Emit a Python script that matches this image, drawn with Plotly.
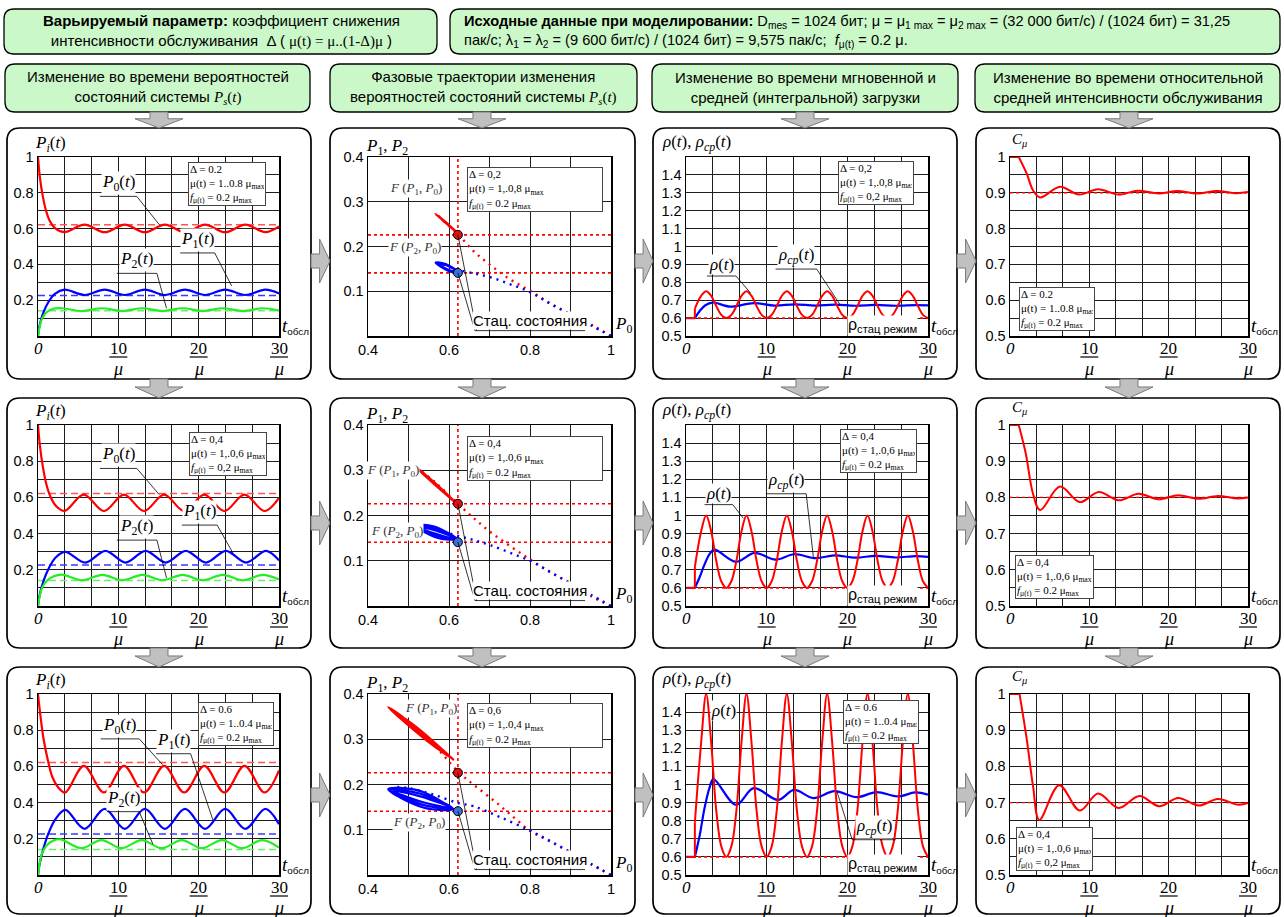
import plotly.graph_objects as go

W, H = 1284, 917

# ================= DATA =================
# Column 1: P_i(t).  A: delta=0.2, B: delta=0.4, C: delta=0.6
T_P0_A = [0, 0.25, 0.6, 1.0, 1.5, 2.2, 3.3, 5.8, 8.3, 10.8, 13.3, 15.8, 18.3, 20.8, 23.3, 25.8, 28.3, 30]
P0_A = [1.0, 0.88, 0.78, 0.70, 0.64, 0.60, 0.58, 0.622, 0.58, 0.622, 0.58, 0.622, 0.58, 0.622, 0.58, 0.622, 0.58, 0.612]
T_P1_A = [0, 0.2, 0.7, 1.3, 2.1, 3.3, 5.8, 8.3, 10.8, 13.3, 15.8, 18.3, 20.8, 23.3, 25.8, 28.3, 30]
P1_A = [0, 0.06, 0.134, 0.19, 0.236, 0.259, 0.229, 0.259, 0.229, 0.259, 0.229, 0.259, 0.229, 0.259, 0.229, 0.259, 0.238]
T_P2_A = [0, 0.5, 1.1, 1.9, 3.0, 5.5, 8.0, 10.5, 13.0, 15.5, 18.0, 20.5, 23.0, 25.5, 28.0, 30]
P2_A = [0, 0.097, 0.134, 0.152, 0.155, 0.139, 0.155, 0.139, 0.155, 0.139, 0.155, 0.139, 0.155, 0.139, 0.155, 0.142]

T_P0_B = [0, 0.25, 0.6, 1.0, 1.5, 2.2, 3.3, 5.7, 8.2, 10.7, 13.2, 15.7, 18.2, 20.7, 23.2, 25.7, 28.2, 30]
P0_B = [1.0, 0.88, 0.77, 0.68, 0.61, 0.555, 0.525, 0.615, 0.525, 0.615, 0.525, 0.615, 0.525, 0.615, 0.525, 0.615, 0.525, 0.598]
T_P1_B = [0, 0.2, 0.7, 1.3, 2.2, 3.4, 5.9, 8.4, 10.9, 13.4, 15.9, 18.4, 20.9, 23.4, 25.9, 28.4, 30]
P1_B = [0, 0.06, 0.14, 0.205, 0.268, 0.299, 0.24, 0.305, 0.24, 0.305, 0.24, 0.305, 0.24, 0.305, 0.24, 0.305, 0.252]
T_P2_B = [0, 0.5, 1.1, 1.9, 3.0, 5.5, 8.0, 10.5, 13.0, 15.5, 18.0, 20.5, 23.0, 25.5, 28.0, 30]
P2_B = [0, 0.1, 0.14, 0.163, 0.173, 0.142, 0.172, 0.142, 0.172, 0.142, 0.172, 0.142, 0.172, 0.142, 0.172, 0.146]

T_P0_C = [0, 0.3, 0.7, 1.2, 1.8, 2.5, 3.4, 5.7, 8.2, 10.7, 13.2, 15.7, 18.2, 20.7, 23.2, 25.7, 28.2, 30]
P0_C = [1.0, 0.88, 0.75, 0.64, 0.54, 0.485, 0.456, 0.603, 0.456, 0.603, 0.456, 0.603, 0.456, 0.603, 0.456, 0.603, 0.456, 0.578]
T_P1_C = [0, 0.2, 0.7, 1.3, 2.2, 3.4, 5.8, 8.3, 10.8, 13.3, 15.8, 18.3, 20.8, 23.3, 25.8, 28.3, 30]
P1_C = [0, 0.06, 0.15, 0.23, 0.31, 0.36, 0.255, 0.365, 0.255, 0.365, 0.255, 0.365, 0.255, 0.365, 0.255, 0.365, 0.28]
T_P2_C = [0, 0.5, 1.1, 1.9, 2.8, 5.4, 7.9, 10.4, 12.9, 15.4, 17.9, 20.4, 22.9, 25.4, 27.9, 30]
P2_C = [0, 0.12, 0.165, 0.19, 0.197, 0.148, 0.193, 0.148, 0.193, 0.148, 0.193, 0.148, 0.193, 0.148, 0.193, 0.152]

# stationary state values (dashed / dotted reference lines)
STAT_P0 = 0.622
STAT_P1 = 0.226
STAT_P2 = 0.141

# Column 2: phase trajectories (approach path and limit loops)
PA_R_X = [1.0, 0.96, 0.9, 0.85, 0.8, 0.75, 0.7, 0.66, 0.622, 0.595, 0.57]
PA_R_Y = [0.0, 0.021, 0.049, 0.073, 0.101, 0.127, 0.16, 0.19, 0.228, 0.25, 0.272]
PA_B_X = [1.0, 0.95, 0.9, 0.85, 0.8, 0.75, 0.7, 0.66, 0.622, 0.6, 0.57]
PA_B_Y = [0.0, 0.024, 0.048, 0.072, 0.098, 0.116, 0.132, 0.14, 0.148, 0.155, 0.163]
LA_R_X = [0.622, 0.589, 0.566, 0.603, 0.622, 0.592, 0.57, 0.600, 0.622]
LA_R_Y = [0.229, 0.257, 0.273, 0.244, 0.229, 0.2545, 0.27, 0.2465, 0.229]
LA_B_X = [0.622, 0.592, 0.567, 0.600, 0.622, 0.5935, 0.57, 0.5985, 0.622]
LA_B_Y = [0.143, 0.161, 0.164, 0.145, 0.143, 0.158, 0.162, 0.148, 0.143]

PB_R_X = [1.0, 0.95, 0.9, 0.85, 0.8, 0.75, 0.7, 0.66, 0.622, 0.57, 0.515]
PB_R_Y = [0.0, 0.022, 0.05, 0.075, 0.103, 0.133, 0.165, 0.195, 0.226, 0.27, 0.31]
PB_B_X = [1.0, 0.95, 0.9, 0.85, 0.8, 0.75, 0.7, 0.66, 0.622, 0.57, 0.516]
PB_B_Y = [0.0, 0.025, 0.05, 0.075, 0.1, 0.118, 0.135, 0.146, 0.155, 0.168, 0.178]
LB_R_X = [0.62, 0.5575, 0.513, 0.5775, 0.62, 0.561, 0.517, 0.574, 0.62, 0.5642, 0.521, 0.5708, 0.62]
LB_R_Y = [0.226, 0.278, 0.311, 0.258, 0.226, 0.2747, 0.308, 0.2613, 0.226, 0.2713, 0.305, 0.2647, 0.226]
LB_B_X = [0.62, 0.5634, 0.514, 0.5726, 0.62, 0.5649, 0.518, 0.5711, 0.62, 0.5665, 0.522, 0.5695, 0.62]
LB_B_Y = [0.148, 0.1756, 0.179, 0.1504, 0.148, 0.1714, 0.177, 0.1546, 0.148, 0.1672, 0.175, 0.1588, 0.148]

PC_R_X = [1.0, 0.95, 0.9, 0.85, 0.8, 0.75, 0.71, 0.66, 0.622, 0.56, 0.5, 0.452]
PC_R_Y = [0.0, 0.024, 0.05, 0.074, 0.098, 0.135, 0.165, 0.2, 0.229, 0.29, 0.335, 0.37]
PC_B_X = [1.0, 0.95, 0.9, 0.85, 0.8, 0.726, 0.66, 0.623, 0.56, 0.5, 0.462]
PC_B_Y = [0.0, 0.025, 0.05, 0.075, 0.098, 0.128, 0.152, 0.159, 0.178, 0.192, 0.195]
LC_R_X = [0.612, 0.5181, 0.45, 0.5459, 0.61, 0.5228, 0.455, 0.5412, 0.608, 0.5274, 0.46, 0.5366, 0.608]
LC_R_Y = [0.254, 0.3277, 0.371, 0.2963, 0.256, 0.3224, 0.367, 0.3016, 0.258, 0.3172, 0.364, 0.3068, 0.258]
LC_B_X = [0.612, 0.5255, 0.45, 0.5385, 0.61, 0.5277, 0.455, 0.5363, 0.608, 0.5298, 0.46, 0.5342, 0.608]
LC_B_Y = [0.145, 0.1864, 0.19, 0.1486, 0.146, 0.1801, 0.188, 0.1549, 0.147, 0.1738, 0.186, 0.1612, 0.147]

DELTA_A = ['0.074', '0.148', '0.106']
DELTA_B = ['0.165', '0.336', '0.211']
DELTA_C = ['0.279', '0.581', '0.335']

# Column 3: instantaneous load rho(t) and mean load rho_cp(t)
RHO_STAT = 0.6
RHO_T = [1.1, 1.875, 2.5, 3.125, 3.75, 4.375, 5.0, 5.625, 6.25, 6.875, 7.5, 8.125, 8.75, 9.375, 10.0,
         10.625, 11.25, 11.875, 12.5, 13.125, 13.75, 14.375, 15.0, 15.625, 16.25, 16.875, 17.5, 18.125,
         18.75, 19.375, 20.0, 20.625, 21.25, 21.875, 22.5, 23.125, 23.75, 24.375, 25.0, 25.625, 26.25,
         26.875, 27.5, 28.125, 28.75, 29.375, 30.0]
RHO_A = [0.653, 0.724, 0.75, 0.724, 0.667, 0.618, 0.6,
         0.618, 0.667, 0.724, 0.75, 0.724, 0.667, 0.618, 0.6,
         0.618, 0.667, 0.724, 0.75, 0.724, 0.667, 0.618, 0.6,
         0.618, 0.667, 0.724, 0.75, 0.724, 0.667, 0.618, 0.6,
         0.618, 0.667, 0.724, 0.75, 0.724, 0.667, 0.618, 0.6,
         0.618, 0.667, 0.724, 0.75, 0.724, 0.667, 0.618, 0.6]
RHO_B = [0.716, 0.912, 1.0, 0.912, 0.75, 0.637, 0.6,
         0.637, 0.75, 0.912, 1.0, 0.912, 0.75, 0.637, 0.6,
         0.637, 0.75, 0.912, 1.0, 0.912, 0.75, 0.637, 0.6,
         0.637, 0.75, 0.912, 1.0, 0.912, 0.75, 0.637, 0.6,
         0.637, 0.75, 0.912, 1.0, 0.912, 0.75, 0.637, 0.6,
         0.637, 0.75, 0.912, 1.0, 0.912, 0.75, 0.637, 0.6]
RHO_C = [0.79, 1.23, 1.5, 1.23, 0.857, 0.658, 0.6,
         0.658, 0.857, 1.23, 1.5, 1.23, 0.857, 0.658, 0.6,
         0.658, 0.857, 1.23, 1.5, 1.23, 0.857, 0.658, 0.6,
         0.658, 0.857, 1.23, 1.5, 1.23, 0.857, 0.658, 0.6,
         0.658, 0.857, 1.23, 1.5, 1.23, 0.857, 0.658, 0.6,
         0.658, 0.857, 1.23, 1.5, 1.23, 0.857, 0.658, 0.6]
T_RCP_A = [1.1, 1.7, 2.4, 3.3, 5.5, 8.4, 11.0, 13.5, 16.0, 18.5, 21.0, 23.5, 26.0, 28.5, 30]
RCP_A = [0.6, 0.64, 0.672, 0.687, 0.664, 0.684, 0.67, 0.677, 0.67, 0.675, 0.669, 0.674, 0.669, 0.673, 0.671]
T_RCP_B = [1.1, 1.7, 2.3, 2.9, 3.5, 6.2, 8.5, 11.1, 13.4, 16.1, 18.4, 21.0, 23.5, 26.0, 28.5, 30]
RCP_B = [0.6, 0.66, 0.73, 0.785, 0.811, 0.744, 0.793, 0.756, 0.786, 0.764, 0.78, 0.767, 0.777, 0.768, 0.776, 0.771]
T_RCP_C = [1.1, 1.7, 2.3, 2.9, 3.4, 6.2, 8.4, 11.4, 13.4, 15.8, 18.4, 21.2, 23.6, 26.3, 28.4, 30]
RCP_C = [0.6, 0.72, 0.87, 0.98, 1.03, 0.888, 0.98, 0.915, 0.97, 0.925, 0.963, 0.93, 0.958, 0.934, 0.956, 0.944]

# Column 4: relative mean service intensity C_mu(t)
T_C_A = [1.1, 2.1, 2.9, 3.8, 6.3, 8.7, 11.1, 13.7, 16.1, 18.7, 21.1, 23.6, 26.1, 28.6, 30]
C_A = [1.0, 0.954, 0.907, 0.887, 0.917, 0.895, 0.91, 0.895, 0.906, 0.898, 0.905, 0.898, 0.905, 0.899, 0.902]
T_C_B = [1.1, 2.0, 2.9, 3.8, 6.3, 8.8, 11.2, 13.7, 16.2, 18.7, 21.2, 23.7, 26.2, 28.7, 30]
C_B = [1.0, 0.92, 0.81, 0.765, 0.83, 0.787, 0.815, 0.792, 0.81, 0.795, 0.806, 0.796, 0.804, 0.797, 0.8]
T_C_C = [1.2, 2.1, 2.9, 3.7, 6.2, 8.8, 11.1, 13.7, 16.3, 18.8, 21.2, 23.8, 26.2, 28.8, 30]
C_C = [1.0, 0.877, 0.746, 0.652, 0.748, 0.678, 0.725, 0.685, 0.718, 0.69, 0.713, 0.692, 0.71, 0.694, 0.699]
C_STAT = [0.9, 0.8, 0.7]

# tick labels
TIME_TICKS = [10, 20, 30]
P_TICKS = [0.2, 0.4, 0.6, 0.8, 1.0]
P_TICKTEXT = ['0.2', '0.4', '0.6', '0.8', '1']
PH_X_TICKS = [0.4, 0.6, 0.8, 1.0]
PH_X_TEXT = ['0.4', '0.6', '0.8', '1']
PH_Y_TICKS = [0.1, 0.2, 0.3, 0.4]
PH_Y_TEXT = ['0.1', '0.2', '0.3', '0.4']
RHO_TICKS = [0.5, 0.6, 0.7, 0.8, 0.9, 1.0, 1.1, 1.2, 1.3, 1.4]
RHO_TICKTEXT = ['0.5', '0.6', '0.7', '0.8', '0.9', '1', '1.1', '1.2', '1.3', '1.4']
C_TICKS = [0.5, 0.6, 0.7, 0.8, 0.9, 1.0]
C_TICKTEXT = ['0.5', '0.6', '0.7', '0.8', '0.9', '1']

# ================= STYLE / GEOMETRY =================
RED, BLUE, GREEN = '#ff0000', '#0000ff', '#22ee22'
RED_D, BLUE_D, GREEN_D = '#ff5555', '#3a3aff', '#66f066'
SERIF = 'Liberation Serif, Times New Roman, serif'
SANS = 'Liberation Sans, Arial, sans-serif'
GRID = '#1e1e1e'

COL_X = [(38, 279), (368, 611), (686, 928), (1010, 1248)]
ROW_Y = [(157, 336), (425, 606), (694, 875)]
PANEL_X = [(7, 311), (330, 635), (653, 957), (976, 1280)]
PANEL_Y = [(128, 379), (398, 648), (667, 914)]
HEAD_X = [(5, 310), (330, 637), (652, 958), (975, 1280)]
HEAD_Y = (64, 112)
ARROW_CX = [159, 482, 805, 1129]
ARROW_CY = [261, 523, 795]

fig = go.Figure()
shapes, annotations = [], []


def ids(r, c):
    k = r * 4 + c + 1
    return ('x' if k == 1 else f'x{k}'), ('y' if k == 1 else f'y{k}'), k


def add_line(r, c, x, y, color, width=2.2, dash=None, shape='spline'):
    xr, yr, _ = ids(r, c)
    ln = dict(color=color, width=width, shape=shape)
    if dash:
        ln['dash'] = dash
    if shape == 'spline':
        ln['smoothing'] = 1.0
    fig.add_trace(go.Scatter(x=x, y=y, mode='lines', line=ln, xaxis=xr, yaxis=yr,
                             showlegend=False, hoverinfo='skip'))


def rrect(x0, y0, x1, y1, r, fill, lw=1.5, lc='black'):
    rx, ry = r / W, r / H
    X0, X1 = x0 / W, x1 / W
    YT, YB = 1 - y0 / H, 1 - y1 / H
    p = (f'M {X0+rx:.5f},{YT:.5f} L {X1-rx:.5f},{YT:.5f} Q {X1:.5f},{YT:.5f} {X1:.5f},{YT-ry:.5f} '
         f'L {X1:.5f},{YB+ry:.5f} Q {X1:.5f},{YB:.5f} {X1-rx:.5f},{YB:.5f} '
         f'L {X0+rx:.5f},{YB:.5f} Q {X0:.5f},{YB:.5f} {X0:.5f},{YB+ry:.5f} '
         f'L {X0:.5f},{YT-ry:.5f} Q {X0:.5f},{YT:.5f} {X0+rx:.5f},{YT:.5f} Z')
    shapes.append(dict(type='path', xref='paper', yref='paper', path=p, fillcolor=fill,
                       line=dict(color=lc, width=lw), layer='below'))


def poly(pts, fill='#c0c0c0', lc='#7a7a7a'):
    p = 'M ' + ' L '.join(f'{x / W:.5f},{1 - y / H:.5f}' for x, y in pts) + ' Z'
    shapes.append(dict(type='path', xref='paper', yref='paper', path=p, fillcolor=fill,
                       line=dict(color=lc, width=1), layer='below'))


def down_arrow(cx, y0, y1):
    yb = y0 + (y1 - y0) * 0.42
    poly([(cx - 9, y0), (cx + 9, y0), (cx + 9, yb), (cx + 24, yb), (cx, y1), (cx - 24, yb), (cx - 9, yb)])


def right_arrow(cy, x0, x1):
    xb = x0 + (x1 - x0) * 0.45
    poly([(x0, cy - 7), (xb, cy - 7), (xb, cy - 22), (x1, cy), (xb, cy + 22), (xb, cy + 7), (x0, cy + 7)])


def ann_px(x, y, text, size=15, family=SANS, xanchor='center', yanchor='middle', **kw):
    d = dict(xref='paper', yref='paper', x=x / W, y=1 - y / H, text=text, showarrow=False,
             xanchor=xanchor, yanchor=yanchor, font=dict(family=family, size=size, color='black'))
    d.update(kw)
    annotations.append(d)


def ann_data(r, c, x, y, text, size=17, family=SERIF, xanchor='center', yanchor='bottom', **kw):
    xr, yr, _ = ids(r, c)
    d = dict(xref=xr, yref=yr, x=x, y=y, text=text, showarrow=False, xanchor=xanchor,
             yanchor=yanchor, font=dict(family=family, size=size, color=kw.pop('color', 'black')),
             bgcolor='white', borderpad=0)
    d.update(kw)
    annotations.append(d)


def seg_data(r, c, x0, y0, x1, y1, width=0.8, color='black'):
    xr, yr, _ = ids(r, c)
    shapes.append(dict(type='line', xref=xr, yref=yr, x0=x0, y0=y0, x1=x1, y1=y1,
                       line=dict(color=color, width=width), layer='above'))


def seg_px(x0, y0, x1, y1, width=1.2, color='black'):
    shapes.append(dict(type='line', xref='paper', yref='paper', x0=x0 / W, y0=1 - y0 / H,
                       x1=x1 / W, y1=1 - y1 / H, line=dict(color=color, width=width), layer='above'))


def leader(r, c, text, ux0, ux1, uy, lx, ly, from_left=False, size=17):
    ann_data(r, c, (ux0 + ux1) / 2, uy, text, size=size, yshift=1)
    seg_data(r, c, ux0, uy, ux1, uy)
    sx = ux0 if from_left else ux1
    seg_data(r, c, sx, uy, lx, ly)


# ---------------- header boxes ----------------
HEAD_GREEN = '#cbf8c8'
rrect(4, 9, 437, 54, 10, HEAD_GREEN, 1.3)
rrect(450, 9, 1280, 54, 10, HEAD_GREEN, 1.3)
ann_px(221, 31, "<b>Варьируемый параметр:</b> коэффициент снижения<br>интенсивности обслуживания  Δ ( "
       "<span style='font-family:Liberation Serif'>μ(t) = μ..(1-Δ)μ</span> )", size=15)
ann_px(462, 31, "<b>Исходные данные при моделировании:</b> D<sub>mes</sub> = 1024 бит; μ = μ<sub>1 max</sub> = "
       "μ<sub>2 max</sub> = (32 000 бит/с) / (1024 бит) = 31,25<br>пак/с; λ<sub>1</sub> = λ<sub>2</sub> = "
       "(9 600 бит/с) / (1024 бит) = 9,575 пак/с;  <i>f</i><sub>μ(t)</sub> = 0.2 μ.",
       size=14.6, xanchor='left', align='left')

HEAD_TXT = [
    "Изменение во времени вероятностей<br>состояний системы <span style='font-family:Liberation Serif'>"
    "<i>P<sub>s</sub></i>(<i>t</i>)</span>",
    "Фазовые траектории изменения<br>вероятностей состояний системы <span style='font-family:Liberation Serif'>"
    "<i>P<sub>s</sub></i>(<i>t</i>)</span>",
    "Изменение во времени мгновенной и<br>средней (интегральной) загрузки",
    "Изменение во времени относительной<br>средней интенсивности обслуживания",
]
for c in range(4):
    rrect(HEAD_X[c][0], HEAD_Y[0], HEAD_X[c][1], HEAD_Y[1], 10, HEAD_GREEN, 1.3)
    ann_px((HEAD_X[c][0] + HEAD_X[c][1]) / 2, (HEAD_Y[0] + HEAD_Y[1]) / 2, HEAD_TXT[c], size=15)

# ---------------- panels ----------------
for r in range(3):
    for c in range(4):
        rrect(PANEL_X[c][0], PANEL_Y[r][0], PANEL_X[c][1], PANEL_Y[r][1], 13, 'white', 1.7)

# ---------------- arrows ----------------
for c in range(4):
    down_arrow(ARROW_CX[c], HEAD_Y[1], PANEL_Y[0][0])
    down_arrow(ARROW_CX[c], PANEL_Y[0][1], PANEL_Y[1][0])
    down_arrow(ARROW_CX[c], PANEL_Y[1][1], PANEL_Y[2][0])
for r in range(3):
    for c in range(3):
        right_arrow(ARROW_CY[r], PANEL_X[c][1], PANEL_X[c + 1][0])

# ---------------- axes ----------------
common = dict(showline=True, linecolor='black', linewidth=1.5, mirror=True, showgrid=True,
              gridcolor=GRID, gridwidth=1, zeroline=False, ticks='', automargin=False,
              tickfont=dict(family=SANS, size=14.5, color='black'), fixedrange=True)
axes = {}
for r in range(3):
    for c in range(4):
        xr, yr, k = ids(r, c)
        sfx = '' if k == 1 else str(k)
        xd = [COL_X[c][0] / W, COL_X[c][1] / W]
        yd = [1 - ROW_Y[r][1] / H, 1 - ROW_Y[r][0] / H]
        if c == 1:
            xa = dict(domain=xd, anchor=yr, range=[0.4, 1.0], tickmode='array', tickvals=PH_X_TICKS,
                      ticktext=PH_X_TEXT, minor=dict(tickvals=[0.5, 0.7, 0.9], showgrid=True,
                                                      gridcolor=GRID, gridwidth=1), **common)
            ya = dict(domain=yd, anchor=xr, range=[0, 0.4], tickmode='array', tickvals=PH_Y_TICKS,
                      ticktext=PH_Y_TEXT, **common)
        else:
            xa = dict(domain=xd, anchor=yr, range=[0, 30], tick0=0, dtick=10 / 3,
                      showticklabels=False, **common)
            if c == 0:
                ya = dict(domain=yd, anchor=xr, range=[0, 1], tickmode='array', tickvals=P_TICKS,
                          ticktext=P_TICKTEXT,
                          minor=dict(tickvals=[0.1, 0.3, 0.5, 0.7, 0.9], showgrid=True,
                                     gridcolor=GRID, gridwidth=1), **common)
            elif c == 2:
                ya = dict(domain=yd, anchor=xr, range=[0.5, 1.5], tickmode='array', tickvals=RHO_TICKS,
                          ticktext=RHO_TICKTEXT, **common)
            else:
                ya = dict(domain=yd, anchor=xr, range=[0.5, 1.0], tickmode='array', tickvals=C_TICKS,
                          ticktext=C_TICKTEXT,
                          minor=dict(tickvals=[0.55, 0.65, 0.75, 0.85, 0.95], showgrid=True,
                                     gridcolor=GRID, gridwidth=1), **common)
        axes['xaxis' + sfx] = xa
        axes['yaxis' + sfx] = ya

# ---------------- column 1 ----------------
COL1 = [(T_P0_A, P0_A, T_P1_A, P1_A, T_P2_A, P2_A),
        (T_P0_B, P0_B, T_P1_B, P1_B, T_P2_B, P2_B),
        (T_P0_C, P0_C, T_P1_C, P1_C, T_P2_C, P2_C)]
for r, (t0, p0, t1, p1, t2, p2) in enumerate(COL1):
    add_line(r, 0, [0, 30], [STAT_P0, STAT_P0], RED_D, 1.5, '7px,4px', 'linear')
    add_line(r, 0, [0, 30], [STAT_P1, STAT_P1], BLUE_D, 1.5, '7px,4px', 'linear')
    add_line(r, 0, [0, 30], [STAT_P2, STAT_P2], GREEN_D, 1.5, '7px,4px', 'linear')
    add_line(r, 0, t0, p0, RED)
    add_line(r, 0, t1, p1, BLUE)
    add_line(r, 0, t2, p2, GREEN)

P0_TXT = '<i>P</i><sub>0</sub>(<i>t</i>)'
P1_TXT = '<i>P</i><sub>1</sub>(<i>t</i>)'
P2_TXT = '<i>P</i><sub>2</sub>(<i>t</i>)'
COL1_LABELS = [
    [(P0_TXT, 7.7, 12.3, 0.78, 15.1, 0.622), (P1_TXT, 17.7, 22.0, 0.464, 24.1, 0.28),
     (P2_TXT, 9.8, 14.8, 0.35, 16.0, 0.155)],
    [(P0_TXT, 7.7, 12.3, 0.76, 15.1, 0.615), (P1_TXT, 17.9, 22.3, 0.447, 24.3, 0.29),
     (P2_TXT, 9.8, 14.8, 0.364, 16.0, 0.155)],
    [(P0_TXT, 7.8, 12.6, 0.752, 15.5, 0.61), (P1_TXT, 14.7, 19.0, 0.67, 21.8, 0.30),
     (P2_TXT, 8.6, 12.6, 0.35, 14.3, 0.17)],
]
for r in range(3):
    for (txt, a, b, uy, lx, ly) in COL1_LABELS[r]:
        leader(r, 0, txt, a, b, uy, lx, ly)

# ---------------- column 2 ----------------
COL2 = [(PA_R_X, PA_R_Y, PA_B_X, PA_B_Y, LA_R_X, LA_R_Y, LA_B_X, LA_B_Y, DELTA_A),
        (PB_R_X, PB_R_Y, PB_B_X, PB_B_Y, LB_R_X, LB_R_Y, LB_B_X, LB_B_Y, DELTA_B),
        (PC_R_X, PC_R_Y, PC_B_X, PC_B_Y, LC_R_X, LC_R_Y, LC_B_X, LC_B_Y, DELTA_C)]
F_POS = [((0.518, 0.329), (0.517, 0.198)),
         ((0.462, 0.30), (0.472, 0.164)),
         ((0.556, 0.367), (0.527, 0.115))]
for r, (arx, ary, abx, aby, lrx, lry, lbx, lby, dl) in enumerate(COL2):
    xr, yr, _ = ids(r, 1)
    add_line(r, 1, [STAT_P0, STAT_P0], [0, 0.4], RED, 1.6, 'dot', 'linear')
    add_line(r, 1, [0.4, 1.0], [STAT_P1, STAT_P1], RED, 1.6, 'dot', 'linear')
    add_line(r, 1, [0.4, 1.0], [STAT_P2, STAT_P2], RED, 1.6, 'dot', 'linear')
    add_line(r, 1, arx, ary, RED, 2.4, '2px,5px', 'spline')
    add_line(r, 1, abx, aby, BLUE, 2.4, '2px,5px', 'spline')
    add_line(r, 1, lrx, lry, RED, 2.2)
    add_line(r, 1, lbx, lby, BLUE, 2.2)
    fig.add_trace(go.Scatter(x=[STAT_P0, STAT_P0], y=[STAT_P1, STAT_P2], mode='markers',
                             marker=dict(size=9, color=['#e01010', '#3b6fd8'],
                                         line=dict(color='black', width=1)),
                             xaxis=xr, yaxis=yr, showlegend=False, hoverinfo='skip'))
    # stationary-state callout
    ann_data(r, 1, 0.80, 0.012, 'Стац. состояния', size=15, family=SANS, yshift=1)
    seg_data(r, 1, 0.664, 0.012, 0.936, 0.012)
    seg_data(r, 1, STAT_P0, STAT_P1, 0.668, 0.012)
    seg_data(r, 1, STAT_P0, STAT_P2, 0.664, 0.012)
    (f1x, f1y), (f2x, f2y) = F_POS[r]
    ann_data(r, 1, f1x, f1y, '<i>F</i> (<i>P</i><sub>1</sub>, <i>P</i><sub>0</sub>)', size=13,
             yanchor='middle', color='#333333')
    ann_data(r, 1, f2x, f2y, '<i>F</i> (<i>P</i><sub>2</sub>, <i>P</i><sub>0</sub>)', size=13,
             yanchor='middle', color='#333333')
    # delta column of the inset
    top = ROW_Y[r][0] + 10
    ann_px(549, top + 22, f"<b>δ</b><sub>0</sub> = {dl[0]}<br><b>δ</b><sub>1</sub> = {dl[1]}<br>"
           f"<b>δ</b><sub>2</sub> = {dl[2]}", size=12, family=SERIF, xanchor='left', align='left')

# ---------------- column 3 ----------------
COL3 = [(RHO_A, T_RCP_A, RCP_A), (RHO_B, T_RCP_B, RCP_B), (RHO_C, T_RCP_C, RCP_C)]
for r, (rho, trc, rcp) in enumerate(COL3):
    add_line(r, 2, [0, 30], [RHO_STAT, RHO_STAT], RED, 1.6, 'dot', 'linear')
    add_line(r, 2, [0, trc[0]], [rcp[0], rcp[0]], BLUE, 2.2, None, 'linear')
    add_line(r, 2, trc, rcp, BLUE)
    add_line(r, 2, [0, RHO_T[0], RHO_T[0]], [RHO_STAT, RHO_STAT, rho[0]], RED, 2.0, None, 'linear')
    add_line(r, 2, RHO_T, rho, RED, 2.0)
    ann_data(r, 2, 24.4, 0.558, 'ρ<sub>стац режим</sub>', size=16, family=SANS, yanchor='middle')

RHO_TXT = '<i>ρ</i>(<i>t</i>)'
RCP_TXT = '<i>ρ<sub>cp</sub></i>(<i>t</i>)'
leader(0, 2, RHO_TXT, 2.6, 6.2, 0.835, 8.0, 0.74)
leader(0, 2, RCP_TXT, 11.1, 16.2, 0.874, 19.1, 0.675)
leader(1, 2, RHO_TXT, 2.3, 5.8, 1.06, 7.1, 0.985)
leader(1, 2, RCP_TXT, 9.9, 14.9, 1.12, 15.8, 0.767)
ann_data(2, 2, 4.6, 1.41, RHO_TXT, size=17, yanchor='middle')
leader(2, 2, RCP_TXT, 20.6, 26.0, 0.695, 18.7, 0.963, from_left=True)

# ---------------- column 4 ----------------
COL4 = [(T_C_A, C_A), (T_C_B, C_B), (T_C_C, C_C)]
for r, (tc, cc) in enumerate(COL4):
    add_line(r, 3, [0, 30], [C_STAT[r], C_STAT[r]], RED, 1.4, 'dot', 'linear')
    add_line(r, 3, [0, tc[0]], [cc[0], cc[0]], RED, 2.0, None, 'linear')
    add_line(r, 3, tc, cc, RED, 2.0)

# ---------------- insets ----------------
MU = '<i>μ</i>'
INSETS = {
    (0, 0): ((188, 162, 74, 40), ['Δ = 0.2', 'μ(t) = 1..0.8 μ<sub>max</sub>', '<i>f</i><sub>μ(t)</sub> = 0.2 μ<sub>max</sub>']),
    (1, 0): ((189, 432, 74, 40), ['Δ = 0,4', 'μ(t) = 1,.0,6 μ<sub>max</sub>', '<i>f</i><sub>μ(t)</sub> = 0,2 μ<sub>max</sub>']),
    (2, 0): ((198, 702, 72, 40), ['Δ = 0.6', 'μ(t) = 1..0.4 μ<sub>max</sub>', '<i>f</i><sub>μ(t)</sub> = 0.2 μ<sub>max</sub>']),
    (0, 1): ((467, 167, 132, 41), ['Δ = 0,2', 'μ(t) = 1,.0,8 μ<sub>max</sub>', '<i>f</i><sub>μ(t)</sub> = 0.2 μ<sub>max</sub>']),
    (1, 1): ((467, 436, 132, 41), ['Δ = 0,4', 'μ(t) = 1,.0,6 μ<sub>max</sub>', '<i>f</i><sub>μ(t)</sub> = 0.2 μ<sub>max</sub>']),
    (2, 1): ((467, 703, 132, 41), ['Δ = 0,6', 'μ(t) = 1,.0,4 μ<sub>max</sub>', '<i>f</i><sub>μ(t)</sub> = 0.2 μ<sub>max</sub>']),
    (0, 2): ((838, 161, 72, 40), ['Δ = 0,2', 'μ(t) = 1,.0,8 μ<sub>max</sub>', '<i>f</i><sub>μ(t)</sub> = 0,2 μ<sub>max</sub>']),
    (1, 2): ((840, 429, 73, 40), ['Δ = 0,4', 'μ(t) = 1,.0,6 μ<sub>max</sub>', '<i>f</i><sub>μ(t)</sub> = 0.2 μ<sub>max</sub>']),
    (2, 2): ((843, 700, 72, 40), ['Δ = 0.6', 'μ(t) = 1..0.4 μ<sub>max</sub>', '<i>f</i><sub>μ(t)</sub> = 0.2 μ<sub>max</sub>']),
    (0, 3): ((1019, 287, 72, 40), ['Δ = 0.2', 'μ(t) = 1..0.8 μ<sub>max</sub>', '<i>f</i><sub>μ(t)</sub> = 0.2 μ<sub>max</sub>']),
    (1, 3): ((1015, 555, 75, 40), ['Δ = 0,4', 'μ(t) = 1,.0,6 μ<sub>max</sub>', '<i>f</i><sub>μ(t)</sub> = 0.2 μ<sub>max</sub>']),
    (2, 3): ((1016, 827, 73, 40), ['Δ = 0,4', 'μ(t) = 1,.0,6 μ<sub>max</sub>', '<i>f</i><sub>μ(t)</sub> = 0,2 μ<sub>max</sub>']),
}
for (r, c), ((x, y, w, h), lines) in INSETS.items():
    ann_px(x, y, '<br>'.join(lines), size=11, family=SERIF, xanchor='left', yanchor='top',
           align='left', valign='middle', width=w, height=h, bgcolor='white',
           bordercolor='#444444', borderwidth=1, borderpad=1)

# ---------------- axis decorations ----------------
Y_TITLES = ['<i>P<sub>i</sub></i>(<i>t</i>)', '<i>P</i><sub>1</sub>, <i>P</i><sub>2</sub>',
            '<i>ρ</i>(<i>t</i>), <i>ρ<sub>cp</sub></i>(<i>t</i>)', '<i>C<sub>μ</sub></i>']
Y_TITLE_DX = [-5, -4, -26, 0]
Y_TITLE_DY = [13, 10, 14, 17]
for r in range(3):
    yt, yb = ROW_Y[r]
    for c in range(4):
        x0, x1 = COL_X[c]
        ann_px(x0 + Y_TITLE_DX[c], yt - Y_TITLE_DY[c], Y_TITLES[c], size=17 if c < 3 else 15,
               family=SERIF, xanchor='left')
        if c == 1:
            ann_px(x1 + 2, yb - 11, '<i>P</i><sub>0</sub>', size=17, family=SERIF, xanchor='left')
            continue
        ann_px(x1 + 1, yb + 3, "<span style='font-family:Liberation Serif;font-size:19px'><i>t</i></span>"
               "<sub>обсл</sub>", size=14, family=SANS, xanchor='left', yanchor='bottom')
        ann_px(x0, yb + 12, '<i>0</i>', size=17, family=SERIF)
        for v in TIME_TICKS:
            px = x0 + v / 30 * (x1 - x0)
            ann_px(px, yb + 12, str(v), size=17, family=SERIF)
            seg_px(px - 9, yb + 21, px + 9, yb + 21, 1.2)
            ann_px(px, yb + 33, MU, size=18, family=SERIF)

fig.update_layout(template='none', width=W, height=H, autosize=False,
                  margin=dict(l=0, r=0, t=0, b=0, pad=0, autoexpand=False),
                  paper_bgcolor='white', plot_bgcolor='rgba(0,0,0,0)', showlegend=False,
                  shapes=shapes, annotations=annotations,
                  font=dict(family=SANS, color='black'), **axes)

fig.write_html(
    "out.html",
    config={'displayModeBar': False, 'responsive': False, 'staticPlot': True},
    post_script=("document.body.style.margin='0';document.body.style.padding='0';"
                 "document.body.style.overflow='hidden';"
                 "var gd=document.getElementById('{plot_id}');"
                 "gd.style.position='fixed';gd.style.left='0px';gd.style.top='0px';"),
)
